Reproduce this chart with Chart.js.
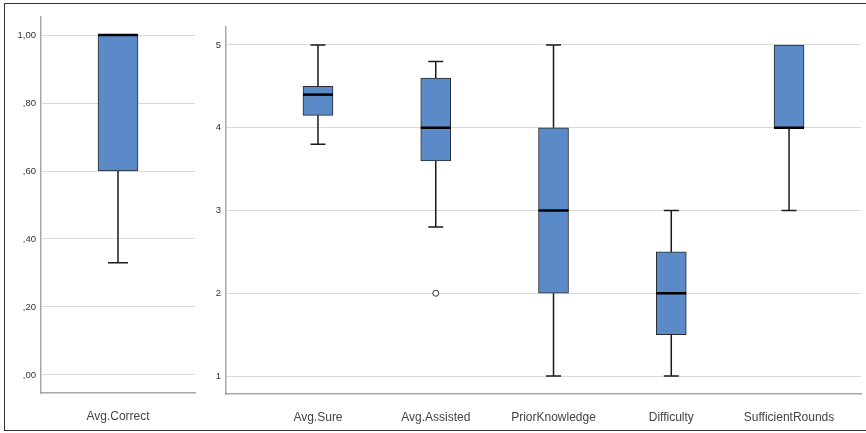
<!DOCTYPE html>
<html>
<head>
<meta charset="utf-8">
<script src="https://cdn.jsdelivr.net/npm/chart.js@4.4.0/dist/chart.umd.min.js"></script>
<style>
body { margin:0; background:#fff; width:866px; height:433px; overflow:hidden; position:relative; }
#frame { position:absolute; left:4px; top:3px; width:870px; height:428px; border:1px solid #333; border-right:none; box-sizing:border-box; }
#left { position:absolute; left:0; top:0; }
#right { position:absolute; left:205px; top:0; }
</style>
</head>
<body>
<div id="frame"></div>
<canvas id="left" width="205" height="433"></canvas>
<canvas id="right" width="661" height="433"></canvas>
<script>
// linker paneel
const leftLabels = ['Avg.Correct'];
const leftMin = [0.33];
const leftQ1 = [0.60];
const leftMed = [1.00];
const leftQ3 = [1.00];
const leftMax = [1.00];
const leftTicks = [0, 0.2, 0.4, 0.6, 0.8, 1.0];

// rechter paneel
const rightLabels = ['Avg.Sure', 'Avg.Assisted', 'PriorKnowledge', 'Difficulty', 'SufficientRounds'];
const rightMin = [3.8, 2.8, 1, 1, 3];
const rightQ1 = [4.15, 3.6, 2, 1.5, 4];
const rightMed = [4.4, 4.0, 3, 2, 4];
const rightQ3 = [4.5, 4.6, 4, 2.5, 5];
const rightMax = [5.0, 4.8, 5, 3, 5];
const rightTicks = [1, 2, 3, 4, 5];
const outlierCat = [2];     // Avg.Assisted
const outlierVal = [2.0];

const boxFill = '#5a8bc8';
const boxLine = '#2a2a2a';
const font = 'Arial, "Liberation Sans", sans-serif';

// snorren + mediaan tekenen
const whiskerPlugin = {
    id: 'whiskers',
    afterDatasetsDraw(chart) {
        const ds = chart.data.datasets[0];
        const st = ds.stats;
        const meta = chart.getDatasetMeta(0);
        const y = chart.scales.y;
        const ctx = chart.ctx;
        ctx.save();
        meta.data.forEach((bar, i) => {
            const cx = bar.x, w = bar.width;
            const pMin = y.getPixelForValue(st.min[i]);
            const pMax = y.getPixelForValue(st.max[i]);
            const pQ1 = y.getPixelForValue(st.q1[i]);
            const pQ3 = y.getPixelForValue(st.q3[i]);
            const pMed = y.getPixelForValue(st.med[i]);
            ctx.strokeStyle = '#1a1a1a';
            ctx.lineWidth = 1.5;
            ctx.beginPath();
            if (st.max[i] > st.q3[i]) {
                ctx.moveTo(cx, pQ3); ctx.lineTo(cx, pMax);
                ctx.moveTo(cx - w / 4, pMax); ctx.lineTo(cx + w / 4, pMax);
            }
            if (st.min[i] < st.q1[i]) {
                ctx.moveTo(cx, pQ1); ctx.lineTo(cx, pMin);
                ctx.moveTo(cx - w / 4, pMin); ctx.lineTo(cx + w / 4, pMin);
            }
            ctx.stroke();
            ctx.strokeStyle = '#000';
            ctx.lineWidth = 2.5;
            ctx.beginPath();
            ctx.moveTo(cx - w / 2, pMed); ctx.lineTo(cx + w / 2, pMed);
            ctx.stroke();
        });
        ctx.restore();
    }
};

function yAxis(min, max, ticks, width, fmt) {
    return {
        min: min, max: max,
        afterBuildTicks: s => { s.ticks = ticks.map(v => ({ value: v })); },
        afterFit: s => { s.width = width; },
        grid: { color: '#d9d9d9', lineWidth: 1, drawTicks: false },
        border: { color: '#a8a8a8', width: 1.5 },
        ticks: { padding: 5, color: '#333', font: { family: font, size: 9.5 }, callback: fmt }
    };
}

// Avg.Correct
new Chart(document.getElementById('left'), {
    type: 'bar',
    data: {
        labels: leftLabels,
        datasets: [{
            data: leftQ1.map((q, i) => [q, leftQ3[i]]),
            stats: { min: leftMin, q1: leftQ1, med: leftMed, q3: leftQ3, max: leftMax },
            backgroundColor: boxFill,
            borderColor: boxLine,
            borderWidth: 1,
            borderSkipped: false,
            barThickness: 40
        }]
    },
    options: {
        responsive: false,
        animation: false,
        layout: { padding: { left: 0, right: 10, top: 17, bottom: 0 } },
        plugins: { legend: { display: false }, tooltip: { enabled: false } },
        scales: {
            x: {
                afterFit: s => { s.height = 40; },
                grid: { display: false },
                border: { color: '#a8a8a8', width: 1.5 },
                ticks: { padding: 8, color: '#444', font: { family: font, size: 12 } }
            },
            y: yAxis(-0.053, 1.053, leftTicks, 41, v => (v >= 1 ? '1' : '') + ',' + String(Math.round(v * 100) % 100).padStart(2, '0'))
        }
    },
    plugins: [whiskerPlugin]
});

// overige variabelen
new Chart(document.getElementById('right'), {
    type: 'bar',
    data: {
        datasets: [{
            data: rightLabels.map((l, i) => ({ x: i + 1, y: [rightQ1[i], rightQ3[i]] })),
            stats: { min: rightMin, q1: rightQ1, med: rightMed, q3: rightQ3, max: rightMax },
            backgroundColor: boxFill,
            borderColor: boxLine,
            borderWidth: 1,
            borderSkipped: false,
            barThickness: 30
        }, {
            type: 'scatter',
            data: outlierCat.map((c, i) => ({ x: c, y: outlierVal[i] })),
            pointRadius: 3,
            pointBackgroundColor: '#fff',
            pointBorderColor: '#333',
            pointBorderWidth: 1
        }]
    },
    options: {
        responsive: false,
        animation: false,
        layout: { padding: { left: 0, right: 5, top: 27, bottom: 0 } },
        plugins: { legend: { display: false }, tooltip: { enabled: false } },
        scales: {
            x: {
                type: 'linear',
                offset: false,
                min: 0.219, max: 5.611,
                afterBuildTicks: s => { s.ticks = rightTicks.map(v => ({ value: v })); },
                afterFit: s => { s.height = 39; },
                grid: { display: false },
                border: { color: '#a8a8a8', width: 1.5 },
                ticks: {
                    padding: 8, color: '#444', autoSkip: false, maxRotation: 0,
                    font: { family: font, size: 12 },
                    callback: v => rightLabels[v - 1]
                }
            },
            y: yAxis(0.783, 5.217, rightTicks, 21, v => v)
        }
    },
    plugins: [whiskerPlugin]
});
</script>
</body>
</html>
